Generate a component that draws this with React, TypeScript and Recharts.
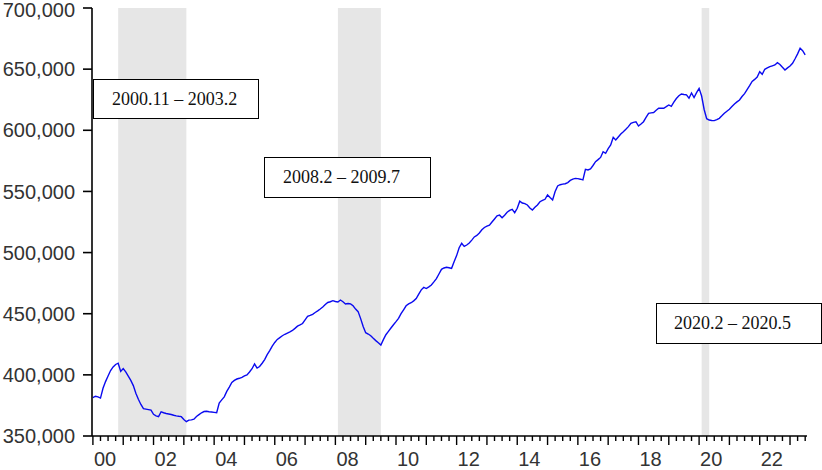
import React from 'react';
import { LineChart, Line, XAxis, YAxis, ReferenceArea } from 'recharts';

// Monthly values (thousands), January..December of each year
const years = [2000, 2001, 2002, 2003, 2004, 2005, 2006, 2007, 2008, 2009, 2010, 2011, 2012, 2013, 2014, 2015, 2016, 2017, 2018, 2019, 2020, 2021, 2022, 2023];
const v2000 = [381.3, 382.5, 382.0, 381.0, 389.0, 394.5, 399.0, 403.5, 406.5, 408.5, 409.5, 402.8];
const v2001 = [405.2, 402.4, 399.0, 395.5, 391.2, 385.0, 380.0, 375.8, 372.4, 372.0, 371.6, 371.2];
const v2002 = [367.7, 366.5, 365.8, 369.8, 369.0, 368.4, 368.0, 367.6, 367.0, 366.5, 366.1, 365.8];
const v2003 = [363.5, 361.7, 363.0, 363.2, 363.8, 366.0, 367.5, 369.0, 370.0, 370.2, 369.8, 369.6];
const v2004 = [369.3, 369.0, 377.0, 379.5, 382.0, 386.5, 390.0, 393.8, 395.5, 396.6, 397.2, 398.0];
const v2005 = [399.2, 400.0, 402.3, 405.0, 408.9, 405.5, 406.8, 409.5, 412.5, 416.5, 419.8, 423.5];
const v2006 = [426.5, 429.0, 430.5, 432.0, 433.2, 434.2, 435.2, 436.3, 438.0, 439.8, 440.8, 442.0];
const v2007 = [445.0, 447.8, 448.6, 449.5, 451.0, 452.3, 453.8, 455.5, 457.5, 459.2, 459.8, 460.7];
const v2008 = [460.0, 459.6, 461.2, 459.8, 458.0, 458.4, 458.0, 456.5, 453.8, 451.7, 446.0, 439.5];
const v2009 = [434.5, 433.4, 432.0, 429.9, 428.0, 426.2, 424.4, 428.8, 432.8, 435.5, 438.3, 441.0];
const v2010 = [443.5, 446.2, 450.0, 453.2, 456.5, 458.0, 459.0, 460.5, 462.4, 466.0, 469.5, 471.5];
const v2011 = [470.6, 472.0, 473.5, 476.0, 478.7, 482.5, 486.3, 487.4, 488.0, 487.6, 487.1, 492.5];
const v2012 = [497.5, 504.0, 507.6, 505.0, 506.2, 507.8, 510.2, 512.8, 514.0, 516.0, 518.6, 520.5];
const v2013 = [521.7, 522.4, 525.0, 527.5, 530.0, 530.6, 528.5, 530.6, 533.0, 534.5, 535.4, 532.6];
const v2014 = [536.2, 542.0, 540.5, 540.0, 538.9, 536.5, 534.8, 537.0, 538.9, 541.6, 542.6, 543.6];
const v2015 = [547.1, 545.0, 543.0, 550.0, 554.5, 555.5, 556.0, 556.3, 557.2, 559.0, 560.0, 560.7];
const v2016 = [560.5, 560.0, 559.4, 568.1, 567.6, 568.5, 571.2, 574.3, 576.0, 577.8, 582.5, 581.2];
const v2017 = [585.0, 588.0, 594.3, 592.1, 594.5, 597.0, 598.8, 600.8, 603.0, 605.7, 606.5, 607.0];
const v2018 = [603.5, 605.2, 607.0, 610.5, 613.9, 614.2, 614.5, 616.4, 618.0, 618.0, 618.0, 619.3];
const v2019 = [620.7, 619.6, 623.0, 626.0, 628.2, 629.7, 629.3, 629.0, 626.2, 630.5, 626.8, 630.8];
const v2020 = [634.3, 628.0, 617.0, 609.5, 608.4, 608.0, 607.9, 608.8, 609.8, 611.8, 613.9, 615.6];
const v2021 = [617.2, 619.4, 621.5, 623.2, 624.8, 627.6, 630.0, 633.2, 636.5, 640.0, 641.6, 643.5];
const v2022 = [647.9, 645.8, 649.9, 651.0, 652.0, 652.7, 653.4, 655.3, 653.8, 651.5, 649.3, 651.0];
const v2023 = [652.5, 654.8, 658.5, 662.5, 667.1, 665.1, 661.6];
const yearValues = [v2000, v2001, v2002, v2003, v2004, v2005, v2006, v2007, v2008, v2009, v2010, v2011, v2012, v2013, v2014, v2015, v2016, v2017, v2018, v2019, v2020, v2021, v2022, v2023];

// Recessions (year, month)
const recStartYear = [2000, 2008, 2020];
const recStartMonth = [11, 2, 2];
const recEndYear = [2003, 2009, 2020];
const recEndMonth = [2, 7, 5];
const recLabels = ['2000.11 \u2013 2003.2', '2008.2 \u2013 2009.7', '2020.2 \u2013 2020.5'];

// Axis ticks
const yTicks = [350000, 400000, 450000, 500000, 550000, 600000, 650000, 700000];
const xLabelYears = [2000, 2002, 2004, 2006, 2008, 2010, 2012, 2014, 2016, 2018, 2020, 2022];
const xLabels = ['00', '02', '04', '06', '08', '10', '12', '14', '16', '18', '20', '22'];

const data = yearValues.flatMap((vals, i) =>
  vals.map((v, m) => ({ t: years[i] + m / 12, value: v * 1000 }))
);

const X_DOMAIN: [number, number] = [1999.97, 2023.56];

const quarterTicks: number[] = [];
years.forEach((y) => {
  for (let q = 0; q < 4; q++) {
    const t = y + q / 4;
    if (t <= 2023.5) quarterTicks.push(t);
  }
});
const labelPositions = xLabelYears.map((y) => y + 0.4);
const allXTicks = [...quarterTicks, ...labelPositions];

// annotation box layout (pixels)
const boxLayout = [
  { left: 93, top: 79, width: 166, height: 40, pad: 18 },
  { left: 264, top: 157, width: 167, height: 41, pad: 18 },
  { left: 656, top: 303, width: 166, height: 41, pad: 17 },
];

const FONT = "'Liberation Sans', Arial, sans-serif";

const XTick = (props: any) => {
  const { x, y, payload } = props;
  const val = payload.value;
  const li = labelPositions.indexOf(val);
  if (li >= 0) {
    return (
      <text x={x} y={y + 30} textAnchor="middle" fontSize={20} fill="#333" fontFamily={FONT}>
        {xLabels[li]}
      </text>
    );
  }
  const isYear = Math.abs(val - Math.round(val)) < 1e-6;
  return <line x1={x} x2={x} y1={y} y2={y + (isYear ? 9 : 5)} stroke="#000" strokeWidth={1.4} />;
};

const YTick = (props: any) => {
  const { x, y, payload } = props;
  const ty = Math.max(y, 10);
  return (
    <text x={x} y={ty} dy="0.36em" textAnchor="end" fontSize={20} fill="#333" fontFamily={FONT}>
      {Number(payload.value).toLocaleString('en-US')}
    </text>
  );
};

export default function App() {
  return (
    <div style={{ position: 'absolute', left: 0, top: 0, width: 822, height: 470, background: '#fff' }}>
      <LineChart width={822} height={470} data={data} margin={{ top: 8, right: 15, bottom: 0, left: 0 }}>
        <XAxis
          dataKey="t"
          type="number"
          domain={X_DOMAIN}
          allowDataOverflow
          ticks={allXTicks}
          interval={0}
          tick={<XTick />}
          tickLine={false}
          tickSize={0}
          tickMargin={0}
          height={34}
          axisLine={{ stroke: '#000', strokeWidth: 1.6 }}
        />
        <XAxis
          xAxisId="top"
          orientation="top"
          dataKey="t"
          type="number"
          domain={X_DOMAIN}
          allowDataOverflow
          height={0}
          tick={false}
          tickLine={false}
          axisLine={{ stroke: '#000', strokeWidth: 1.6 }}
        />
        <YAxis
          type="number"
          domain={[350000, 700000]}
          ticks={yTicks}
          interval={0}
          width={92}
          tickSize={9}
          tickMargin={8}
          tickLine={{ stroke: '#000', strokeWidth: 1.6 }}
          axisLine={{ stroke: '#000', strokeWidth: 1.6 }}
          tick={<YTick />}
        />
        <YAxis
          yAxisId="right"
          orientation="right"
          type="number"
          domain={[350000, 700000]}
          width={0}
          tick={false}
          tickLine={false}
          axisLine={{ stroke: '#000', strokeWidth: 1.6 }}
        />
        {recStartYear.map((sy, i) => (
          <ReferenceArea
            key={i}
            x1={sy + (recStartMonth[i] - 1) / 12}
            x2={recEndYear[i] + (recEndMonth[i] - 1) / 12}
            fill="#e6e6e6"
            fillOpacity={1}
            stroke="none"
          />
        ))}
        <Line
          type="linear"
          dataKey="value"
          stroke="#0a0af0"
          strokeWidth={1.4}
          dot={false}
          isAnimationActive={false}
        />
      </LineChart>
      {recLabels.map((label, i) => (
        <div
          key={i}
          style={{
            position: 'absolute',
            left: boxLayout[i].left,
            top: boxLayout[i].top,
            width: boxLayout[i].width,
            height: boxLayout[i].height,
            boxSizing: 'border-box',
            border: '1px solid #000',
            background: '#fff',
            display: 'flex',
            alignItems: 'center',
            paddingLeft: boxLayout[i].pad,
            fontFamily: "'Liberation Serif', 'Times New Roman', serif",
            fontSize: 18,
            color: '#111',
            whiteSpace: 'nowrap',
          }}
        >
          {label}
        </div>
      ))}
    </div>
  );
}
